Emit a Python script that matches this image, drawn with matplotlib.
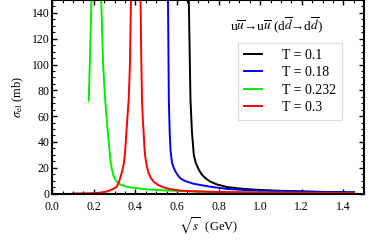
import matplotlib
matplotlib.use('Agg')
import matplotlib.pyplot as plt
from matplotlib.ticker import MultipleLocator

plt.rcParams['font.family'] = 'serif'
plt.rcParams['font.serif'] = ['Liberation Serif', 'DejaVu Serif']
plt.rcParams['mathtext.fontset'] = 'stix'

# values (sqrt(s) in GeV, sigma in mb)
x_t01 = [0.650, 0.657, 0.665, 0.672, 0.681, 0.690, 0.705, 0.721, 0.740, 0.761, 0.790, 0.842,
         0.922, 1.0, 1.1, 1.2, 1.3, 1.45]
y_t01 = [300, 150, 72.7, 48, 30, 24, 18.5, 14.4, 11.5, 9.2, 7.2, 5.0,
         3.6, 2.8, 2.1, 1.7, 1.3, 0.9]

x_t018 = [0.550, 0.557, 0.561, 0.565, 0.569, 0.573, 0.577, 0.585, 0.593, 0.605, 0.617, 0.632,
          0.649, 0.680, 0.713, 0.760, 0.842, 0.920, 1.0, 1.2, 1.45]
y_t018 = [300, 150, 72.7, 48, 33.8, 28, 23.5, 19.8, 17.0, 14.0, 11.8, 10.3,
          9.2, 7.6, 6.6, 5.3, 3.6, 2.8, 2.2, 1.4, 0.8]

x_t0232a = [0.176, 0.182, 0.189, 0.192]
y_t0232a = [72, 105, 150, 180]
x_t0232b = [0.230, 0.236, 0.245, 0.255, 0.263, 0.271, 0.276, 0.280, 0.284, 0.288, 0.297,
            0.311, 0.330, 0.350, 0.376, 0.456, 0.530, 0.617, 0.8, 1.0, 1.2, 1.45]
y_t0232b = [300, 150, 100, 72.7, 56, 42, 33, 26, 21.5, 18.3, 13.0,
            9.2, 6.8, 5.6, 4.8, 3.2, 2.5, 2.0, 1.2, 0.7, 0.45, 0.3]

x_t03 = [0.10, 0.15, 0.20, 0.231, 0.260, 0.280, 0.295, 0.311, 0.320, 0.329, 0.337, 0.345, 0.350,
         0.354, 0.360, 0.368, 0.374, 0.379, 0.39, 0.40, 0.41, 0.425, 0.428, 0.432, 0.436, 0.440,
         0.444, 0.448, 0.456, 0.464, 0.475, 0.488, 0.510, 0.536, 0.570, 0.617, 0.700, 0.8, 1.0,
         1.2, 1.45]
y_t03 = [0.0, 0.1, 0.3, 0.7, 1.5, 2.6, 3.8, 5.3, 8.5, 13.0, 17.5, 23.5, 31,
         40, 55, 72.7, 100, 150, 400, 600, 400, 150, 110, 72.7, 57, 46.8,
         35, 28, 20.5, 15.7, 12, 9.2, 6.6, 4.8, 3.3, 2.2, 1.6, 1.2, 0.8,
         0.6, 0.4]

fig = plt.figure(figsize=(3.92, 2.45), dpi=100)
ax = fig.add_axes([0.133, 0.21, 0.796, 0.79])

lw = 1.4
ax.plot(x_t01, y_t01, color='black', lw=lw, label='T = 0.1')
ax.plot(x_t018, y_t018, color='#0000ff', lw=lw, label='T = 0.18')
ax.plot(x_t0232b, y_t0232b, color='#00ee00', lw=lw, label='T = 0.232')
ax.plot(x_t0232a, y_t0232a, color='#00ee00', lw=lw)
ax.plot(x_t03, y_t03, color='#ff0000', lw=lw, label='T = 0.3')

ax.set_xlim(0, 1.5)
ax.set_ylim(0, 150)
ax.xaxis.set_major_locator(MultipleLocator(0.2))
ax.xaxis.set_minor_locator(MultipleLocator(0.05))
ax.yaxis.set_major_locator(MultipleLocator(20))
ax.yaxis.set_minor_locator(MultipleLocator(5))
ax.tick_params(which='both', direction='in', top=True, right=True, labelsize=8.5)
ax.tick_params(axis='x', pad=5.5)
ax.tick_params(axis='y', pad=2)
ax.tick_params(which='major', length=3.5, width=1)
ax.tick_params(which='minor', length=2, width=0.8)
for s in ax.spines.values():
    s.set_linewidth(1.5)

ax.set_xlabel(r'$\sqrt{s}$  (GeV)', fontsize=9, labelpad=2)
ax.set_ylabel(r'$\sigma_{\rm el}$ (mb)', fontsize=9, labelpad=4)

ax.text(0.72, 0.87, 'u$\\overline{u}$\u2192u$\\overline{u}$ (d$\\overline{d}$\u2192d$\\overline{d}$)',
        transform=ax.transAxes, ha='center', va='center', fontsize=9.5)

leg = ax.legend(loc='upper left', bbox_to_anchor=(0.596, 0.78), fontsize=10, frameon=True,
                fancybox=False, edgecolor='#dddddd', framealpha=1, handlelength=1.3,
                handletextpad=1.4, labelspacing=0.32, borderpad=0.45, borderaxespad=0)
leg.get_frame().set_linewidth(0.8)

fig.savefig('out.png', dpi=100)
